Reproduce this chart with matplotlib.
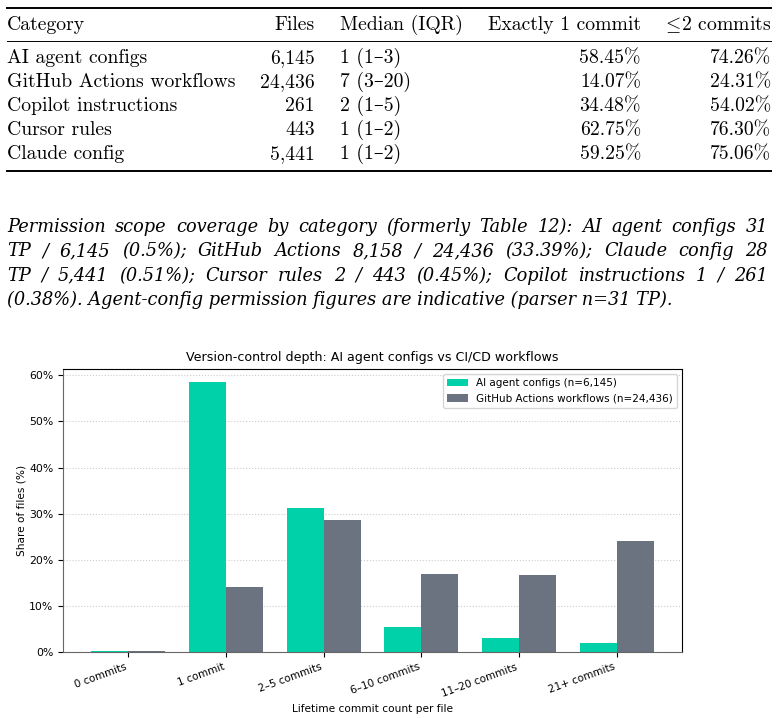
import matplotlib
matplotlib.use("Agg")
import matplotlib.pyplot as plt
import numpy as np
from matplotlib.lines import Line2D

plt.rcParams["mathtext.fontset"] = "cm"

# table data
headers = ["Category", "Files", "Median (IQR)", "Exactly 1 commit", "$\\leq\\!$2 commits"]
categories = ["AI agent configs", "GitHub Actions workflows", "Copilot instructions",
              "Cursor rules", "Claude config"]
files = ["6,145", "24,436", "261", "443", "5,441"]
medians = ["1 (1–3)", "7 (3–20)", "2 (1–5)", "1 (1–2)", "1 (1–2)"]
exactly_one = ["58.45%", "14.07%", "34.48%", "62.75%", "59.25%"]
upto_two = ["74.26%", "24.31%", "54.02%", "76.30%", "75.06%"]

caption_lines = [
    "Permission scope coverage by category (formerly Table 12): AI agent configs 31",
    "TP / 6,145 (0.5%); GitHub Actions 8,158 / 24,436 (33.39%); Claude config 28",
    "TP / 5,441 (0.51%); Cursor rules 2 / 443 (0.45%); Copilot instructions 1 / 261",
    "(0.38%). Agent-config permission figures are indicative (parser n=31 TP).",
]

# chart data
bins = ["0 commits", "1 commit", "2–5 commits", "6–10 commits", "11–20 commits", "21+ commits"]
agent_share = [0.15, 58.45, 31.3, 5.4, 3.0, 1.9]
gha_share = [0.15, 14.07, 28.6, 16.9, 16.7, 24.0]

W, H = 778, 718
fig = plt.figure(figsize=(W / 100, H / 100), dpi=100)


def fx(x):
    return x / W


def fy(y):
    return 1 - y / H


def rule(y, lw):
    fig.add_artist(Line2D([fx(7), fx(771)], [fy(y), fy(y)], color="black", lw=lw))


tfont = dict(family=["cmr10", "DejaVu Serif"], fontsize=14.2, va="center")

rule(8, 1.4)
rule(41, 0.7)
rule(171, 1.4)

row_y = [25] + [58 + 24 * i for i in range(5)]
cols = [(7, "left"), (315, "right"), (340, "left"), (641, "right"), (771, "right")]
rows = [headers] + [list(r) for r in zip(categories, files, medians, exactly_one, upto_two)]
for y, row in zip(row_y, rows):
    for (x, ha), txt in zip(cols, row):
        fig.text(fx(x), fy(y), txt, ha=ha, **tfont)

# caption, justified like the LaTeX paragraph (last line ragged)
cfont = dict(family="DejaVu Serif", style="italic", fontsize=12.8, va="center", ha="left")
renderer = fig.canvas.get_renderer()
left, right = 7, 768
for i, line in enumerate(caption_lines):
    y = fy(227 + 24.4 * i)
    if i == len(caption_lines) - 1:
        fig.text(fx(left), y, line, **cfont)
        continue
    words = line.split(" ")
    texts = [fig.text(0, y, wd, **cfont) for wd in words]
    widths = [t.get_window_extent(renderer).width for t in texts]
    gap = (right - left - sum(widths)) / (len(words) - 1)
    pos = left
    for t, wd in zip(texts, widths):
        t.set_x(fx(pos))
        pos += wd + gap

# bar chart
ax = fig.add_axes([fx(63), fy(652), (682 - 63) / W, (652 - 369) / H])
x = np.arange(len(bins))
w = 0.38
ax.bar(x - w / 2, agent_share, w, color="#00d1a9", label="AI agent configs (n=6,145)")
ax.bar(x + w / 2, gha_share, w, color="#6b7280", label="GitHub Actions workflows (n=24,436)")

ax.set_xticks(x)
ax.set_xticklabels(bins, rotation=20, ha="right", fontsize=7.5)
ax.tick_params(axis="y", labelsize=7.8)
ax.yaxis.set_major_formatter(plt.FuncFormatter(lambda v, p: f"{v:.0f}%"))
ax.yaxis.grid(True, linestyle=":", color="#cccccc", linewidth=0.8)
ax.set_axisbelow(True)
ax.set_ylabel("Share of files (%)", fontsize=7.6, labelpad=2)
ax.set_xlabel("Lifetime commit count per file", fontsize=7.6)
ax.set_title("Version-control depth: AI agent configs vs CI/CD workflows", fontsize=9.1)
ax.legend(loc="upper right", fontsize=7.5)
for s in ["left", "bottom"]:
    ax.spines[s].set_color("#666666")

fig.savefig("out.png", dpi=100)
